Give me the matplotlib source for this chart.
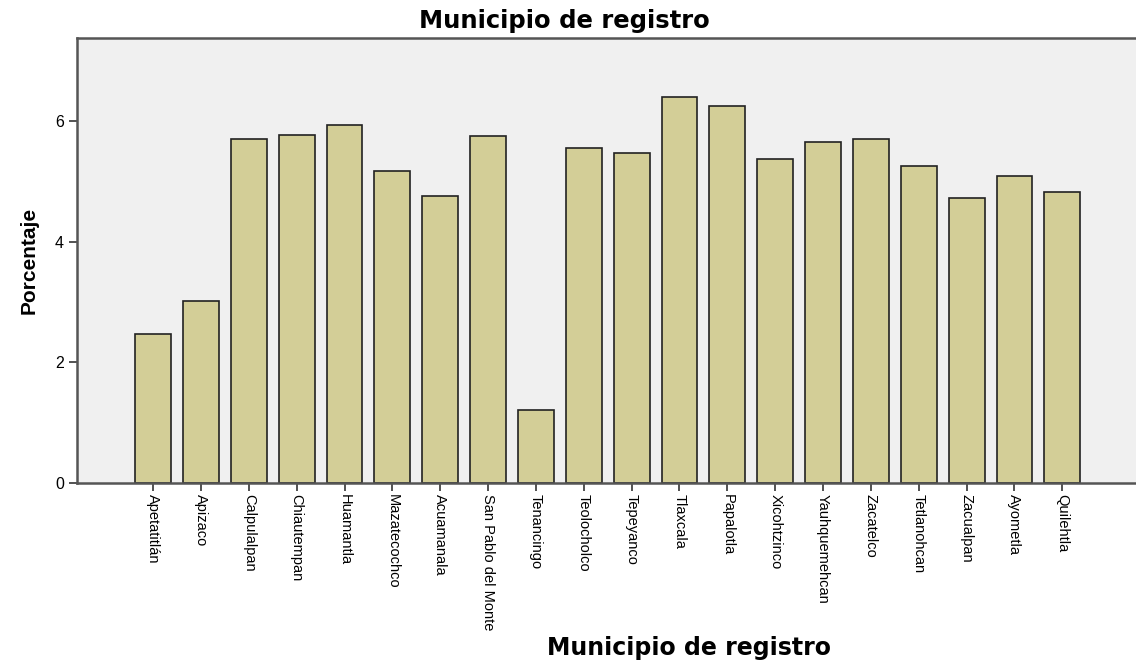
import matplotlib.pyplot as plt
import numpy as np

# === Data ===
municipios = ['Apetatitlán', 'Apizaco', 'Calpulalpan', 'Chiautempan', 'Huamantla',
              'Mazatecochco', 'Acuamanala', 'San Pablo del Monte', 'Tenancingo',
              'Teolocholco', 'Tepeyanco', 'Tlaxcala', 'Papalotla', 'Xicohtzinco',
              'Yauhquemehcan', 'Zacatelco', 'Tetlanohcan', 'Zacualpan', 'Ayometla',
              'Quilehtla']
porcentaje = [2.47, 3.01, 5.71, 5.77, 5.93, 5.18, 4.76, 5.75, 1.21, 5.55,
              5.47, 6.40, 6.25, 5.37, 5.65, 5.70, 5.26, 4.73, 5.09, 4.83]
yticks = [0, 2, 4, 6]

arial = ['Liberation Sans', 'DejaVu Sans']

fig = plt.figure(figsize=(11.36, 6.62), dpi=100)
ax = fig.add_axes([0.0678, 0.2704, 0.9322, 0.6722])
ax.set_facecolor('#f0f0f0')

x = np.arange(len(municipios))
ax.bar(x, porcentaje, width=0.75, color='#d3ce97', edgecolor='#222222', linewidth=1.2)

ax.set_xlim(-1.59, 20.54)
ax.set_ylim(0, 7.38)
ax.set_yticks(yticks)
ax.set_yticklabels([str(t) for t in yticks], fontsize=11.5, family=arial)
ax.set_xticks(x)
ax.set_xticklabels(municipios, rotation=-90, fontsize=10.5, family=arial, va='top', ha='center')
ax.tick_params(axis='both', length=6, width=1.2, color='#333333')
ax.tick_params(axis='x', pad=2)

for side in ['left', 'bottom', 'top']:
    ax.spines[side].set_color('#555555')
    ax.spines[side].set_linewidth(1.8)
ax.spines['right'].set_visible(False)

ax.set_ylabel('Porcentaje', fontsize=15, fontweight='bold', family=arial, labelpad=12)
fig.text(0.6065, 0.021, 'Municipio de registro', ha='center', va='center',
         fontsize=17, fontweight='bold')
fig.text(0.4965, 0.969, 'Municipio de registro', ha='center', va='center',
         fontsize=17.5, fontweight='bold')

fig.savefig('out.png', dpi=100, facecolor='white')
